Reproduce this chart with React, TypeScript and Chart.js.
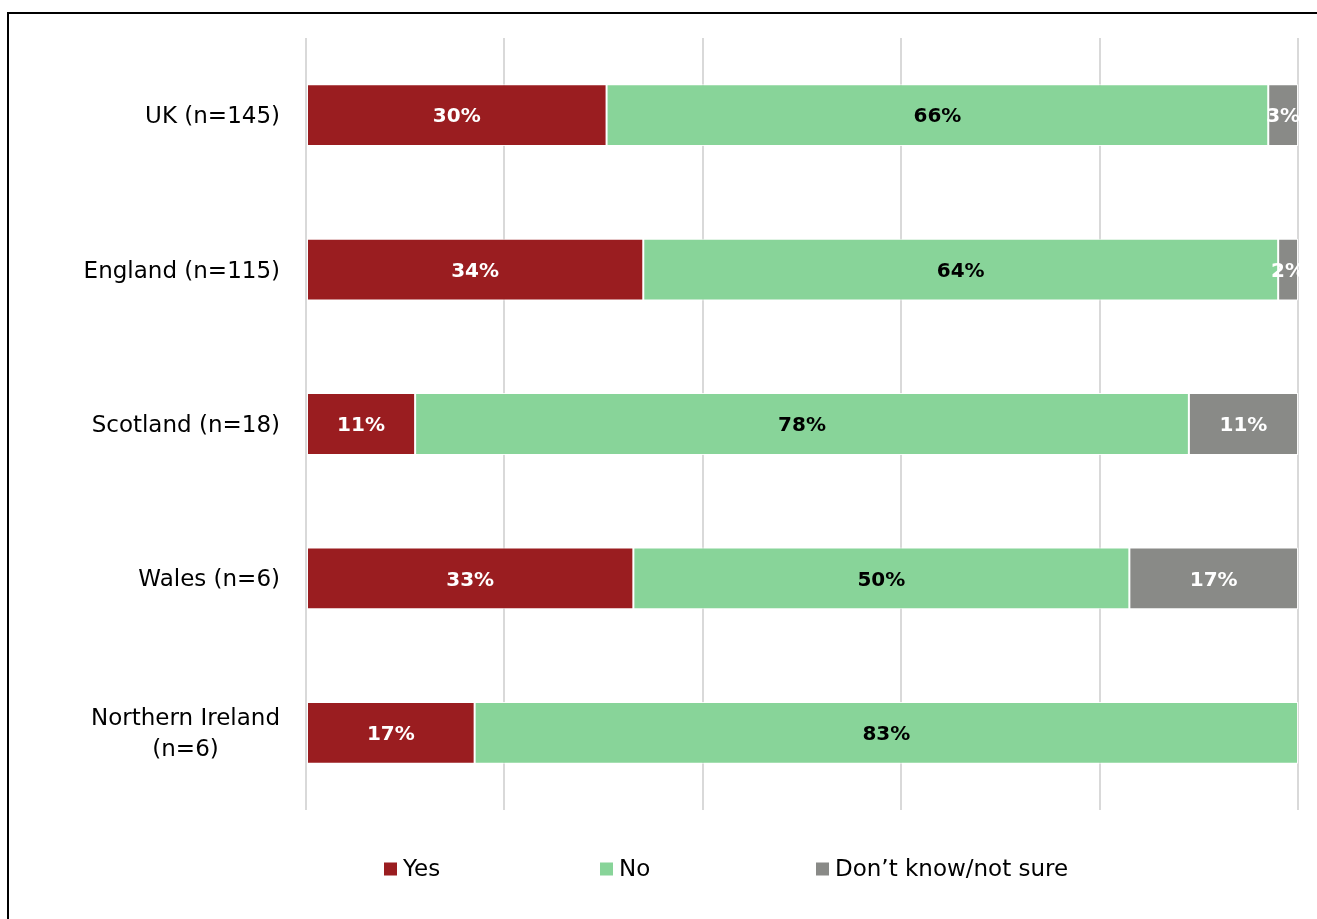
import React, { useEffect, useRef } from 'react';
import { Chart, registerables } from 'chart.js';

Chart.register(...registerables);

const categories: (string | string[])[] = [
  'UK (n=145)',
  'England (n=115)',
  'Scotland (n=18)',
  'Wales (n=6)',
  ['Northern Ireland', '(n=6)'],
];
const seriesNames = ['Yes', 'No', 'Don\u2019t know/not sure'];
const yesValues = [30.3, 34, 11, 33, 17];
const noValues = [66.7, 64, 78, 50, 83];
const dkValues = [3, 2, 11, 17, 0];
const yesLabels = ['30%', '34%', '11%', '33%', '17%'];
const noLabels = ['66%', '64%', '78%', '50%', '83%'];
const dkLabels = ['3%', '2%', '11%', '17%', ''];
const xTicks = [0, 20, 40, 60, 80, 100];

const FONT = '"DejaVu Sans", sans-serif';

const barLabelPlugin = {
  id: 'barLabels',
  afterDatasetsDraw(chart: any) {
    const ctx = chart.ctx;
    const labelSets = [yesLabels, noLabels, dkLabels];
    const colors = ['#ffffff', '#000000', '#ffffff'];
    ctx.save();
    ctx.font = `bold 20px ${FONT}`;
    ctx.textAlign = 'center';
    ctx.textBaseline = 'middle';
    chart.data.datasets.forEach((_: any, di: number) => {
      const meta = chart.getDatasetMeta(di);
      meta.data.forEach((bar: any, i: number) => {
        const txt = labelSets[di][i];
        if (!txt) return;
        const cx = (bar.x + bar.base) / 2;
        ctx.fillStyle = colors[di];
        ctx.fillText(txt, cx, bar.y + 2);
      });
    });
    ctx.restore();
  },
};

const yLabelPlugin = {
  id: 'yLabels',
  afterDraw(chart: any) {
    const ctx = chart.ctx;
    const yScale = chart.scales.y;
    const rightX = chart.chartArea.left - 26;
    const lineH = 31;
    ctx.save();
    ctx.font = `23px ${FONT}`;
    ctx.fillStyle = '#000000';
    ctx.textAlign = 'center';
    ctx.textBaseline = 'middle';
    chart.data.labels.forEach((lab: any, i: number) => {
      const lines: string[] = Array.isArray(lab) ? lab : [lab];
      const maxW = Math.max(...lines.map((l) => ctx.measureText(l).width));
      const cx = rightX - maxW / 2;
      const cy = yScale.getPixelForTick(i) + 2;
      const top = cy - ((lines.length - 1) * lineH) / 2;
      lines.forEach((l, k) => ctx.fillText(l, cx, top + k * lineH));
    });
    ctx.restore();
  },
};

const legendPlugin = {
  id: 'customLegend',
  afterDraw(chart: any) {
    const ctx = chart.ctx;
    const x0 = 384;
    const step = 216;
    const y = 869;
    ctx.save();
    ctx.font = `23px ${FONT}`;
    ctx.textBaseline = 'middle';
    ctx.textAlign = 'left';
    chart.data.datasets.forEach((ds: any, i: number) => {
      const x = x0 + i * step;
      ctx.fillStyle = ds.backgroundColor;
      ctx.fillRect(x, y - 6.5, 13, 13);
      ctx.fillStyle = '#000000';
      ctx.fillText(ds.label, x + 19, y + 1);
    });
    ctx.restore();
  },
};

export default function App() {
  const canvasRef = useRef<HTMLCanvasElement | null>(null);

  useEffect(() => {
    if (!canvasRef.current) return;
    const common = {
      borderColor: 'rgba(255,255,255,0.85)',
      borderWidth: 1,
      borderSkipped: false,
      categoryPercentage: 1,
      barPercentage: 0.4,
    };
    const chart = new Chart(canvasRef.current, {
      type: 'bar',
      data: {
        labels: categories as any,
        datasets: [
          { label: seriesNames[0], data: yesValues, backgroundColor: '#9A1D20', ...common },
          { label: seriesNames[1], data: noValues, backgroundColor: '#88D499', ...common },
          { label: seriesNames[2], data: dkValues, backgroundColor: '#898A87', ...common },
        ] as any,
      },
      options: {
        indexAxis: 'y',
        responsive: false,
        animation: false,
        layout: { padding: { top: 38, right: 19, bottom: 109, left: 0 } },
        plugins: {
          legend: { display: false },
          tooltip: { enabled: false },
        },
        scales: {
          x: {
            stacked: true,
            min: 0,
            max: 100,
            afterBuildTicks: (s: any) => {
              s.ticks = xTicks.map((v) => ({ value: v }));
            },
            ticks: { display: false },
            grid: { color: '#d9d9d9', lineWidth: 2, drawTicks: false },
            border: { display: false },
            afterFit: (s: any) => {
              s.height = 0;
            },
          },
          y: {
            stacked: true,
            ticks: { display: false },
            grid: { display: false },
            border: { display: false },
            afterFit: (s: any) => {
              s.width = 306;
            },
          },
        },
      } as any,
      plugins: [barLabelPlugin, yLabelPlugin, legendPlugin],
    });
    return () => chart.destroy();
  }, []);

  return (
    <>
      <div
        style={{
          position: 'fixed',
          left: 7,
          top: 12,
          width: 1400,
          height: 1000,
          borderTop: '2px solid #000',
          borderLeft: '2px solid #000',
          boxSizing: 'border-box',
        }}
      />
      <canvas
        ref={canvasRef}
        width={1317}
        height={919}
        style={{ position: 'fixed', left: 0, top: 0, display: 'block' }}
      />
    </>
  );
}
